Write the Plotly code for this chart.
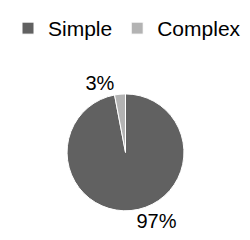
import plotly.graph_objects as go

categories = ["Simple", "Complex"]
values = [97, 3]
colors = ["#616161", "#b3b3b3"]

fig = go.Figure(go.Pie(
    labels=categories,
    values=values,
    sort=False,
    direction="clockwise",
    rotation=0,
    marker=dict(colors=colors, line=dict(color="white", width=1)),
    textinfo="percent",
    texttemplate="%{percent:.0%}",
    textposition="outside",
    textfont=dict(family="Liberation Sans", size=20, color="#000000"),
    domain=dict(x=[0.234, 0.706], y=[0.155, 0.642]),
    showlegend=True,
))

fig.update_layout(
    width=250, height=240,
    margin=dict(l=0, r=0, t=0, b=0),
    paper_bgcolor="white",
    plot_bgcolor="white",
    font=dict(family="Liberation Sans", color="#000000"),
    legend=dict(
        orientation="h",
        x=0.0, y=1.0, xanchor="left", yanchor="top",
        font=dict(family="Liberation Sans", size=21, color="#000000"),
        bgcolor="rgba(0,0,0,0)",
    ),
)

fig.write_html("out.html")
